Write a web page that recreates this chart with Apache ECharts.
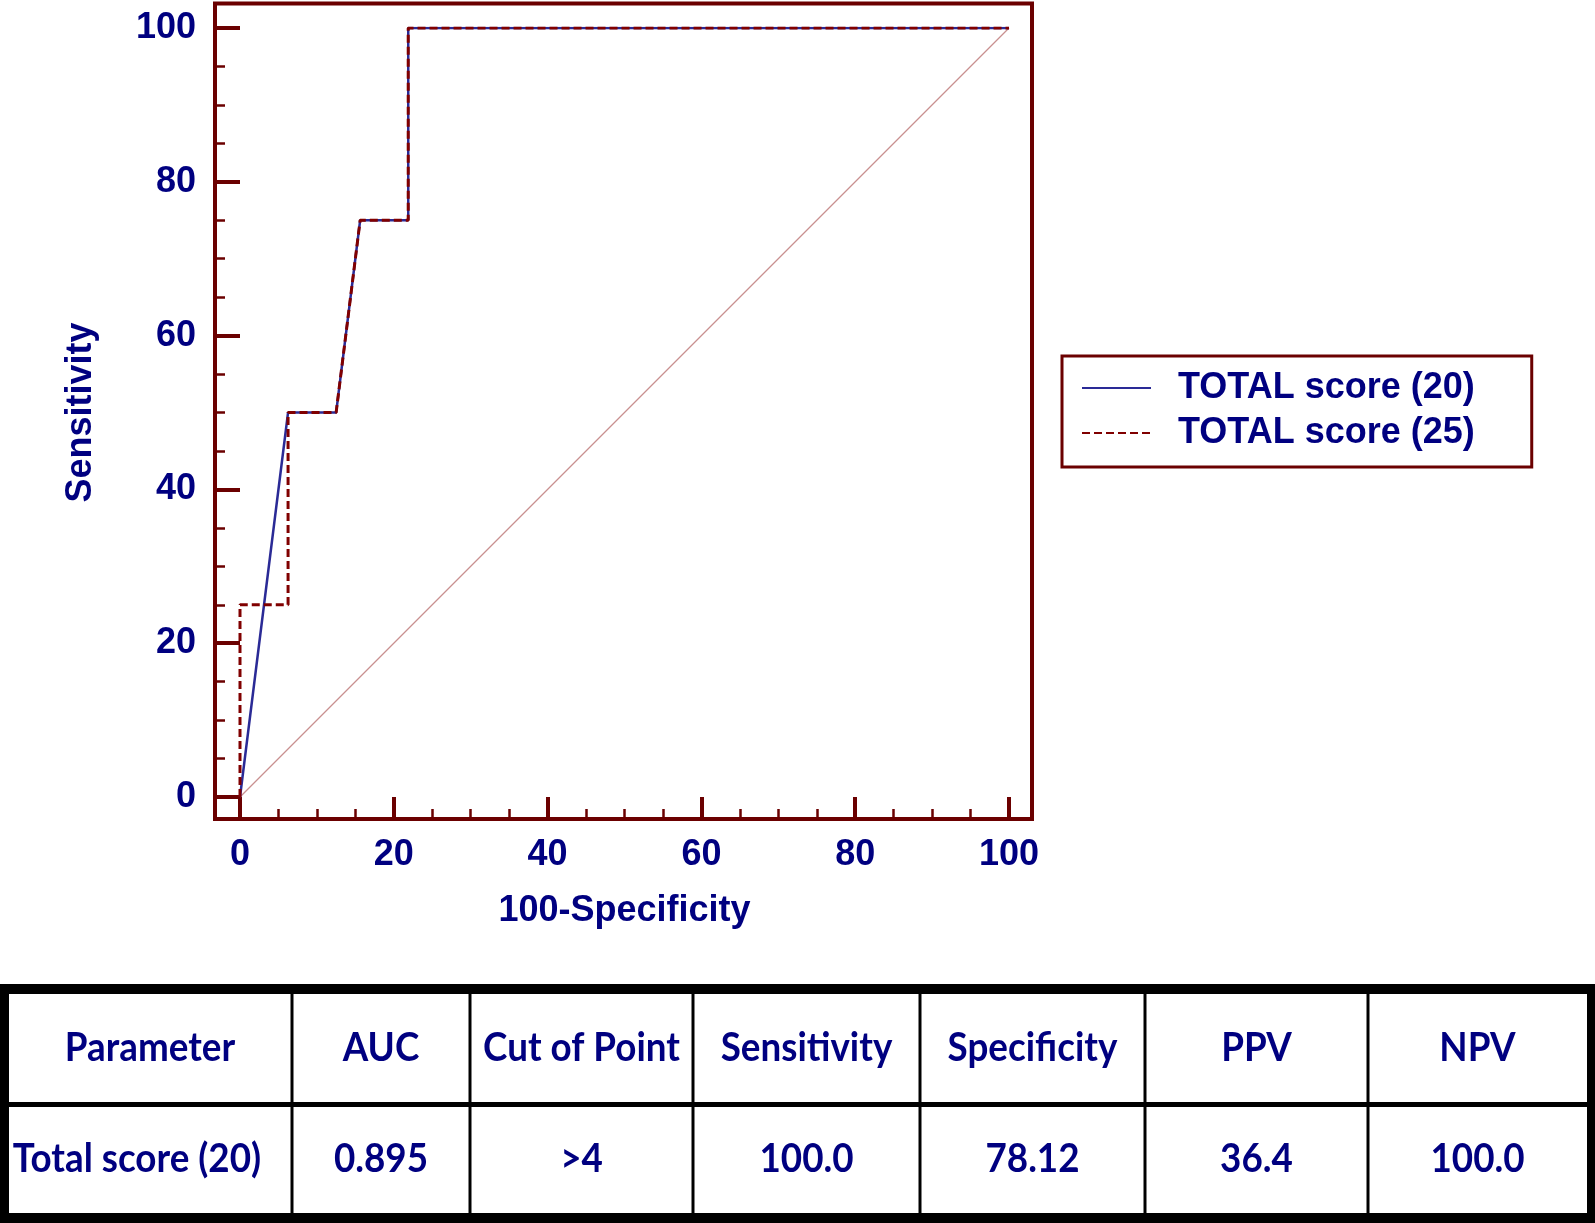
<!DOCTYPE html>
<html>
<head>
<meta charset="utf-8">
<script src="https://cdn.jsdelivr.net/npm/echarts@6/dist/echarts.min.js"></script>
<style>
  html, body { margin: 0; padding: 0; background: #ffffff; }
  #chart { width: 1595px; height: 1223px; }
</style>
</head>
<body>
<div id="chart"></div>
<script>
// ---------- data ----------
const seriesNames = ['TOTAL score (20)', 'TOTAL score (25)'];
const fpr20  = [0, 6.25, 12.5, 15.625, 21.875, 21.875, 100];
const sens20 = [0, 50, 50, 75, 75, 100, 100];
const fpr25  = [0, 0, 6.25, 6.25, 12.5, 15.625, 21.875, 21.875, 100];
const sens25 = [0, 25, 25, 50, 50, 75, 75, 100, 100];
const refX = [0, 100];
const refY = [0, 100];
const axisMin = 0, axisMax = 100, axisStep = 20;
const xAxisName = '100-Specificity';
const yAxisName = 'Sensitivity';
const tableHeader = ['Parameter', 'AUC', 'Cut of Point', 'Sensitivity', 'Specificity', 'PPV', 'NPV'];
const tableRow = ['Total score (20)', '0.895', '>4', '100.0', '78.12', '36.4', '100.0'];

// ---------- layout / style ----------
const frameColor = '#6b0000';
const textColor = '#000080';
const labelFont = 'Liberation Sans, Arial, sans-serif';
const tableFont = 'Lato, Open Sans, sans-serif';
const grid = { left: 240, top: 28, right: 1595 - 1009, bottom: 1223 - 797 };
const frame = { x: 215, y: 3.5, w: 1032 - 215, h: 819 - 3.5 };
const colEdges = [0, 292, 470, 693, 920, 1145, 1368, 1595];
const rowEdges = [989, 1104.5, 1218];

function zip(a, b) { return a.map((v, i) => [v, b[i]]); }

const graphics = [];
graphics.push({
  type: 'rect', shape: { x: frame.x, y: frame.y, width: frame.w, height: frame.h },
  style: { fill: 'none', stroke: frameColor, lineWidth: 4 }, z: 1
});
// table lines
graphics.push({ type: 'rect', shape: { x: 0, y: rowEdges[0] - 5, width: 1595, height: 10 }, style: { fill: '#000' } });
graphics.push({ type: 'rect', shape: { x: 0, y: rowEdges[2] - 5, width: 1595, height: 12 }, style: { fill: '#000' } });
graphics.push({ type: 'rect', shape: { x: 0, y: rowEdges[0] - 5, width: 9, height: 1223 - rowEdges[0] + 5 }, style: { fill: '#000' } });
graphics.push({ type: 'rect', shape: { x: 1587, y: rowEdges[0] - 5, width: 8, height: 1223 - rowEdges[0] + 5 }, style: { fill: '#000' } });
graphics.push({ type: 'rect', shape: { x: 0, y: rowEdges[1] - 2.5, width: 1595, height: 5 }, style: { fill: '#000' } });
for (let i = 1; i < colEdges.length - 1; i++) {
  graphics.push({ type: 'rect', shape: { x: colEdges[i] - 1.5, y: rowEdges[0], width: 3, height: rowEdges[2] - rowEdges[0] }, style: { fill: '#000' } });
}
const leftIn = 8, rightIn = 1587;
for (let i = 0; i < tableHeader.length; i++) {
  const l = i === 0 ? leftIn : colEdges[i];
  const r = i === tableHeader.length - 1 ? rightIn : colEdges[i + 1];
  const cx = (l + r) / 2;
  graphics.push({ type: 'text', x: cx, y: (rowEdges[0] + rowEdges[1]) / 2 + 1, scaleX: 0.92,
    style: { text: tableHeader[i], x: 0, y: 0, align: 'center', verticalAlign: 'middle', font: 'bold 40px ' + tableFont, fill: textColor } });
  graphics.push({ type: 'text', x: i === 0 ? cx - 13 : cx, y: (rowEdges[1] + rowEdges[2]) / 2 - 2, scaleX: 0.92,
    style: { text: tableRow[i], x: 0, y: 0, align: 'center', verticalAlign: 'middle', font: 'bold 40px ' + tableFont, fill: textColor } });
}

const axisLabelStyle = { color: textColor, fontSize: 36, fontWeight: 'bold', fontFamily: labelFont };

const option = {
  backgroundColor: '#ffffff',
  animation: false,
  grid: grid,
  xAxis: {
    type: 'value', min: axisMin, max: axisMax, interval: axisStep,
    offset: 22,
    name: xAxisName, nameLocation: 'middle', nameGap: 74,
    nameTextStyle: axisLabelStyle,
    axisLine: { show: false, onZero: false },
    axisTick: { show: true, inside: true, length: 22, lineStyle: { color: frameColor, width: 4 } },
    minorTick: { show: true, splitNumber: 4, length: 10, lineStyle: { color: frameColor, width: 2.5 } },
    splitLine: { show: false },
    axisLabel: Object.assign({ margin: 18 }, axisLabelStyle)
  },
  yAxis: {
    type: 'value', min: axisMin, max: axisMax, interval: axisStep,
    offset: 25,
    name: yAxisName, nameLocation: 'middle', nameGap: 116,
    nameTextStyle: axisLabelStyle,
    axisLine: { show: false, onZero: false },
    axisTick: { show: true, inside: true, length: 25, lineStyle: { color: frameColor, width: 4 } },
    minorTick: { show: true, splitNumber: 4, length: 10, lineStyle: { color: frameColor, width: 2.5 } },
    splitLine: { show: false },
    axisLabel: Object.assign({ margin: 19 }, axisLabelStyle)
  },
  legend: {
    data: seriesNames,
    orient: 'vertical',
    left: 1062, top: 356,
    padding: [14, 57, 16, 19],
    borderColor: frameColor, borderWidth: 3,
    itemWidth: 69, itemHeight: 2, itemGap: 9,
    itemStyle: { opacity: 0 },
    lineStyle: { width: 2 },
    textStyle: { color: textColor, fontSize: 36, fontWeight: 'bold', fontFamily: labelFont, padding: [0, 0, 0, 22] }
  },
  series: [
    {
      name: 'reference', type: 'line', data: zip(refX, refY), symbol: 'none',
      lineStyle: { color: '#c99090', width: 1.2 }, itemStyle: { color: '#c99090' }, z: 2, silent: true
    },
    {
      name: seriesNames[0], type: 'line', data: zip(fpr20, sens20), symbol: 'none',
      lineStyle: { color: '#2a2a96', width: 2.5 }, itemStyle: { color: '#2a2a96' }, z: 3
    },
    {
      name: seriesNames[1], type: 'line', data: zip(fpr25, sens25), symbol: 'none',
      lineStyle: { color: '#800000', width: 3, type: [8, 4] }, itemStyle: { color: '#800000' }, z: 4
    }
  ],
  graphic: graphics
};

const chart = echarts.init(document.getElementById('chart'), null, { renderer: 'canvas' });
chart.setOption(option);
</script>
</body>
</html>
